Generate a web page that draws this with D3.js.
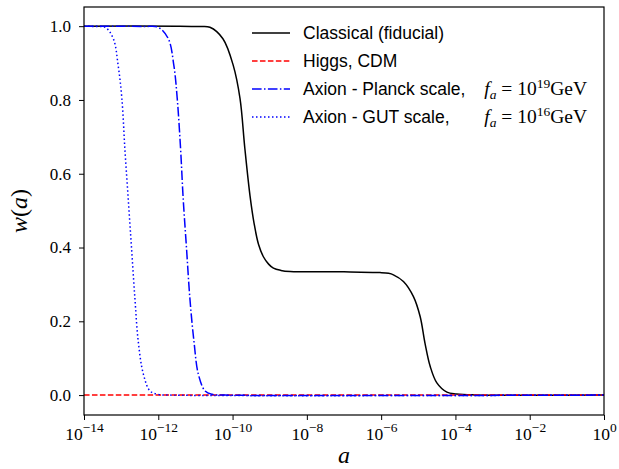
<!DOCTYPE html>
<html>
<head>
<meta charset="utf-8">
<script src="https://cdn.jsdelivr.net/npm/d3@7"></script>
<style>
  body { margin: 0; background: #fff; }
  .tick text { font-family: "Liberation Serif", serif; }
</style>
</head>
<body>
<svg id="chart" width="619" height="469"></svg>
<script>
// values: log10(a) and w(a) for each curve
var CLASSICAL_LOGA = [-14, -11.5, -10.9, -10.61, -10.26, -9.98, -9.80, -9.67, -9.53, -9.42, -9.30, -9.17, -9.03, -8.90,
  -8.70, -8.45, -7.0, -6.03, -5.80, -5.67, -5.40, -5.13, -4.95, -4.82, -4.68, -4.50, -4.23, -3.97, -3.5, 0];
var CLASSICAL_W = [1, 1, 0.999, 0.997, 0.966, 0.893, 0.804, 0.669, 0.540, 0.465, 0.408, 0.375, 0.355, 0.344,
  0.338, 0.335, 0.334, 0.332, 0.330, 0.326, 0.308, 0.267, 0.213, 0.141, 0.078, 0.033, 0.008, 0.003, 0.0005, 0];

var HIGGS_LOGA = [-14, 0];
var HIGGS_W = [0, 0];

var PLANCK_LOGA = [-14, -12.4, -12.0, -11.73, -11.58, -11.49, -11.40, -11.33, -11.24, -11.15, -11.04, -10.92,
  -10.74, -10.55, -10.2, 0];
var PLANCK_W = [1, 0.999, 0.997, 0.966, 0.893, 0.804, 0.668, 0.533, 0.398, 0.263, 0.146, 0.056,
  0.011, 0.002, 0, 0];

var GUT_LOGA = [-14, -13.7, -13.43, -13.21, -13.08, -12.98, -12.90, -12.81, -12.72, -12.63, -12.54, -12.40,
  -12.22, -12.0, -11.7, 0];
var GUT_W = [1, 0.999, 0.997, 0.966, 0.893, 0.804, 0.668, 0.533, 0.398, 0.263, 0.146, 0.056,
  0.011, 0.002, 0, 0];

var X_TICK_EXP = [-14, -12, -10, -8, -6, -4, -2, 0];
var Y_TICKS = [0.0, 0.2, 0.4, 0.6, 0.8, 1.0];

var LEGEND_NAMES = ['Classical (fiducial)', 'Higgs, CDM', 'Axion - Planck scale,', 'Axion - GUT scale,'];
var LEGEND_MATH_EXP = [null, null, '19', '16'];

var margin = {top: 7, right: 15, bottom: 54, left: 84};
var width = 619 - margin.left - margin.right;
var height = 469 - margin.top - margin.bottom;

var svg = d3.select('#chart');
var g = svg.append('g').attr('transform', 'translate(' + margin.left + ',' + margin.top + ')');

var x = d3.scaleLog().domain([1e-14, 1]).range([0, width]);
var y = d3.scaleLinear().domain([-0.054, 1.052]).range([height, 0]);

function zipSeries(logA, w) {
  return logA.map(function(l, i) { return {a: Math.pow(10, l), w: w[i]}; });
}

var series = [
  {data: zipSeries(CLASSICAL_LOGA, CLASSICAL_W), color: '#000', dash: null},
  {data: zipSeries(HIGGS_LOGA, HIGGS_W), color: '#ff0000', dash: '5.55,2.4'},
  {data: zipSeries(PLANCK_LOGA, PLANCK_W), color: '#0000ff', dash: '9.6,2.4,1.5,2.4'},
  {data: zipSeries(GUT_LOGA, GUT_W), color: '#0000ff', dash: '1.5,2.5'}
];

g.append('clipPath').attr('id', 'plot-clip')
  .append('rect').attr('width', width).attr('height', height);

var line = d3.line()
  .x(function(d) { return x(d.a); })
  .y(function(d) { return y(d.w); })
  .curve(d3.curveCatmullRom.alpha(0.5));

series.forEach(function(s) {
  g.append('path')
    .attr('clip-path', 'url(#plot-clip)')
    .attr('d', line(s.data))
    .attr('fill', 'none')
    .attr('stroke', s.color)
    .attr('stroke-width', 1.5)
    .attr('stroke-dasharray', s.dash);
});

// axes
var xAxis = g.append('g')
  .attr('transform', 'translate(0,' + height + ')')
  .call(d3.axisBottom(x)
    .tickValues(X_TICK_EXP.map(function(e) { return Math.pow(10, e); }))
    .tickSize(5)
    .tickFormat(''));

xAxis.selectAll('.tick').each(function(d, i) {
  var t = d3.select(this).append('text')
    .attr('fill', '#000')
    .attr('y', 25)
    .attr('text-anchor', 'middle')
    .style('font-size', '17.5px');
  var e = X_TICK_EXP[i];
  t.append('tspan').text('10');
  t.append('tspan').attr('dy', -8).style('font-size', '13.5px')
    .text(e === 0 ? '0' : '\u2212' + Math.abs(e));
});

g.append('g')
  .call(d3.axisLeft(y)
    .tickValues(Y_TICKS)
    .tickSize(5).tickPadding(8)
    .tickFormat(d3.format('.1f')))
  .selectAll('text').style('font-size', '17px');

g.selectAll('.domain').remove();
g.selectAll('.tick line').attr('stroke', '#000').attr('stroke-width', 1);

g.append('rect')
  .attr('width', width).attr('height', height)
  .attr('fill', 'none').attr('stroke', '#000').attr('stroke-width', 1.2);

// axis labels
svg.append('text')
  .attr('x', margin.left + width / 2).attr('y', 463)
  .attr('text-anchor', 'middle')
  .style('font-family', '"Liberation Serif", serif')
  .style('font-style', 'italic')
  .style('font-size', '24px')
  .text('a');

svg.append('text')
  .attr('transform', 'translate(27,' + (margin.top + height / 2) + ') rotate(-90)')
  .attr('text-anchor', 'middle')
  .style('font-family', '"Liberation Serif", serif')
  .style('font-size', '24px')
  .call(function(t) {
    t.append('tspan').style('font-style', 'italic').text('w');
    t.append('tspan').text('(');
    t.append('tspan').style('font-style', 'italic').text('a');
    t.append('tspan').text(')');
  });

// legend
var legend = svg.append('g').attr('transform', 'translate(252,33)');
series.forEach(function(s, i) {
  var row = legend.append('g').attr('transform', 'translate(0,' + (i * 28) + ')');
  row.append('line')
    .attr('x1', 0).attr('x2', 38)
    .attr('stroke', s.color).attr('stroke-width', 1.5)
    .attr('stroke-dasharray', s.dash);
  row.append('text')
    .attr('x', 51).attr('y', 6)
    .style('font-family', '"Liberation Sans", sans-serif')
    .style('font-size', '17.5px')
    .text(LEGEND_NAMES[i]);
  if (LEGEND_MATH_EXP[i]) {
    var m = row.append('text')
      .attr('x', 335).attr('y', 6)
      .attr('text-anchor', 'end')
      .style('font-family', '"Liberation Serif", serif')
      .style('font-size', '19.5px');
    m.append('tspan').style('font-style', 'italic').text('f');
    m.append('tspan').attr('dy', 4).style('font-size', '13.5px').style('font-style', 'italic').text('a');
    m.append('tspan').attr('dy', -4).text(' = 10');
    m.append('tspan').attr('dy', -7).style('font-size', '13.5px').text(LEGEND_MATH_EXP[i]);
    m.append('tspan').attr('dy', 7).text('GeV');
  }
});
</script>
</body>
</html>
